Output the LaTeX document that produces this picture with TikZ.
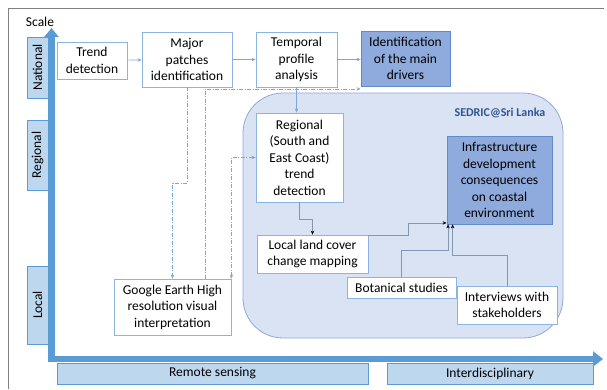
\documentclass[tikz,border=0pt]{standalone}
\usepackage{fontspec}
\setmainfont{Carlito}
\usepackage{tikz}
\usepackage{xcolor}
\usetikzlibrary{arrows.meta}
\definecolor{axisblue}{HTML}{5B9BD5}
\definecolor{scalefill}{HTML}{BDD7EE}
\definecolor{boxline}{HTML}{8DB3E2}
\definecolor{darkfill}{HTML}{8FAADC}
\definecolor{darkline}{HTML}{5F8BCB}
\definecolor{regionfill}{HTML}{DAE3F3}
\definecolor{regionline}{HTML}{8FAADC}
\definecolor{linkblue}{HTML}{7BA7D9}
\definecolor{linkgray}{HTML}{8497B0}
\definecolor{sedricblue}{HTML}{2F5597}
\tikzset{
    plain-box/.style = {draw=boxline, fill=white, line width=0.8pt, rectangle, align=center, inner sep=1pt, font=\fontsize{13.5}{16.5}\selectfont},
    dark-box/.style = {plain-box, draw=darkline, fill=darkfill},
    scale-box/.style = {draw=axisblue, fill=scalefill, line width=0.8pt, rectangle, inner sep=0pt, font=\fontsize{13.5}{16}\selectfont},
    region-box/.style = {draw=regionline, fill=regionfill, line width=0.8pt, rounded corners=40pt},
    axis-arrow/.style = {draw=axisblue, line width=6.5pt, {Triangle[length=9pt,width=14pt]}-{Triangle[length=10pt,width=15pt]}},
    link/.style = {draw=linkblue, line width=0.7pt, -{Stealth[length=4pt,width=3.5pt]}},
    inner-link/.style = {draw=linkgray, line width=0.7pt, -{Stealth[length=4pt,width=3.5pt,black]}},
    dash-link/.style = {link, dash pattern=on 4pt off 1.5pt on 1pt off 1.5pt},
}

\begin{document}
\begin{tikzpicture}[x=1pt, y=-1pt]
\useasboundingbox (0,0) rectangle (607,389);
% frame
\draw[gray, line width=1pt] (8,389) -- (8,8) -- (604,8);

% SEDRIC region
\node [region-box, minimum width=320pt, minimum height=245pt] (sedric) at (403,215.5) {};
\node [font=\fontsize{12}{14}\selectfont\bfseries, text=sedricblue] (sedric-title) at (500,113) {SEDRIC@Sri Lanka};

% axes
\draw[axis-arrow] (51.5,28) |- (603,359);
\node [font=\fontsize{13.5}{16}\selectfont] (scale) at (40,22) {Scale};
\node [scale-box, rotate=90, minimum width=61pt, minimum height=21pt] (national) at (37.5,67.5) {National};
\node [scale-box, rotate=90, minimum width=70pt, minimum height=21pt] (regional-scale) at (37.5,155) {Regional};
\node [scale-box, rotate=90, minimum width=78pt, minimum height=21pt] (local-scale) at (37.5,305) {Local};
\node [scale-box, minimum width=311pt, minimum height=21pt] (remote) at (212.5,373.5) {Remote sensing};
\node [scale-box, minimum width=206pt, minimum height=21pt] (inter) at (490,373.5) {Interdisciplinary};

% national scale
\node [plain-box, minimum width=70pt, minimum height=37pt] (trend) at (92,60.5) {Trend\\detection};
\node [plain-box, minimum width=90pt, minimum height=55pt] (major) at (187,59.5) {Major\\patches\\identification};
\node [plain-box, minimum width=81pt, minimum height=55pt] (temporal) at (296.5,59.5) {Temporal\\profile\\analysis};
\node [dark-box, minimum width=89pt, minimum height=55pt] (drivers) at (405.5,58.5) {Identification\\of the main\\drivers};

% regional and local scale
\node [plain-box, minimum width=87pt, minimum height=89pt] (regional) at (299.5,157.5) {Regional\\(South and\\East Coast)\\trend\\detection};
\node [dark-box, minimum width=105pt, minimum height=88pt] (infra) at (499.5,180) {Infrastructure\\development\\consequences\\on coastal\\environment};
\node [plain-box, minimum width=111pt, minimum height=38pt] (local) at (312.5,254) {Local land cover\\change mapping};
\node [plain-box, minimum width=109pt, minimum height=21pt] (botanical) at (401.5,287.5) {Botanical studies};
\node [plain-box, minimum width=100pt, minimum height=38pt] (interviews) at (507,305) {Interviews with\\stakeholders};
\node [plain-box, minimum width=117pt, minimum height=56pt] (google) at (172.5,307) {Google Earth High\\resolution visual\\interpretation};

% connectors
\draw[link] (trend) -- (major);
\draw[link] (major) -- (temporal);
\draw[link] (temporal.east) -- (temporal.east -| drivers.west);
\draw[link] (temporal.south) -- (temporal.south |- regional.north);
\draw[inner-link] (regional.south) -- ++(0,17) -| (local.north);
\draw[inner-link] ([yshift=-1pt]local.north east) -- ++(40,0) |- ([yshift=1.5pt]infra.south west);
\draw[inner-link] (botanical.north) -- ++(0,-26) -| ([xshift=1.5pt]infra.south west);
\draw[inner-link] (interviews.north) -- ++(0,-30) -| ([xshift=6pt]infra.south west);
\draw[dash-link] (major.south) -- ++(0,96) -| (google.north);
\draw[dash-link] ([xshift=32.5pt]google.north) |- ([yshift=-2.5pt]drivers.south west);
\draw[dash-link, {Stealth[length=4pt,width=3.5pt]}-{Stealth[length=4pt,width=3.5pt]}] (google.north east) |- (regional.west);
\end{tikzpicture}
\end{document}
